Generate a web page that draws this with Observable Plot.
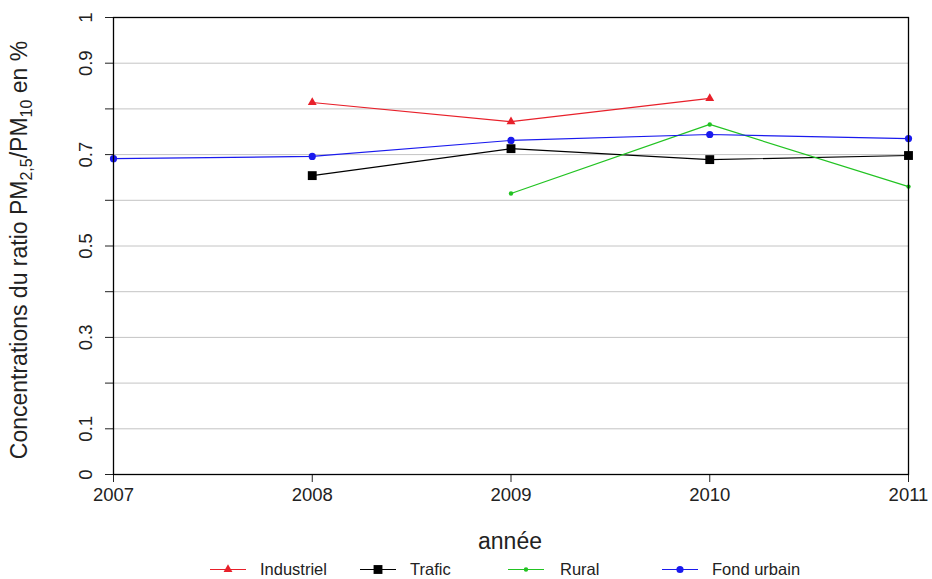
<!DOCTYPE html>
<html>
<head>
<meta charset="utf-8">
<script src="https://cdn.jsdelivr.net/npm/d3@7"></script>
<script src="https://cdn.jsdelivr.net/npm/@observablehq/plot@0.6"></script>
<style>
  body { margin: 0; background: #fff; font-family: "Liberation Sans", Arial, sans-serif; }
  #wrap { position: relative; width: 932px; height: 579px; }
  #legend { position: absolute; left: 0; top: 560px; width: 932px; height: 19px; font-size: 16.5px; color: #222; }
  .key { position: absolute; top: 0; }
  .name { position: absolute; top: 0; line-height: 19px; white-space: nowrap; }
</style>
</head>
<body>
<div id="wrap">
  <div id="chart"></div>
  <div id="legend"></div>
</div>
<script>
// Years on the horizontal axis
const years = [2007, 2008, 2009, 2010, 2011];

// PM2.5 / PM10 ratio by station type (null = no measurement)
const industriel = [null, 0.814, 0.772, 0.823, null];
const trafic     = [null, 0.654, 0.713, 0.689, 0.698];
const rural      = [null, null, 0.615, 0.766, 0.630];
const fondUrbain = [0.691, 0.696, 0.731, 0.744, 0.735];

// Vertical ticks every 0.1, labelled only on odd tenths and the ends
const yTicks = [0, 0.1, 0.2, 0.3, 0.4, 0.5, 0.6, 0.7, 0.8, 0.9, 1];
const yLabels = ["0", "0.1", "", "0.3", "", "0.5", "", "0.7", "", "0.9", "1"];

const seriesNames = ["Industriel", "Trafic", "Rural", "Fond urbain"];
const seriesColors = ["#e8202a", "#000000", "#22c322", "#1a1aee"];
const seriesSymbols = ["triangle", "square", "circle", "circle"];
const seriesSizes = [3.3, 5, 2.2, 3.6];
const seriesValues = [industriel, trafic, rural, fondUrbain];

const rows = seriesNames.flatMap((name, i) =>
  years.map((year, j) => ({ name, year, value: seriesValues[i][j] }))
       .filter(d => d.value != null)
);

const marks = [
  Plot.ruleY(yTicks.slice(1, -1), { stroke: "#c4c4c4", strokeWidth: 1 }),
  Plot.axisX({ ticks: years, tickFormat: d => String(d), tickSize: 8, tickPadding: 5,
               fontSize: 18.5, label: null, color: "#222" }),
  Plot.axisY({ ticks: yTicks, tickSize: 8, tickPadding: 14, tickRotate: -90,
               tickFormat: d => yLabels[yTicks.indexOf(d)],
               fontSize: 18.5, label: null, color: "#222" })
];

seriesNames.forEach((name, i) => {
  const data = rows.filter(d => d.name === name);
  marks.push(Plot.line(data, { x: "year", y: "value", stroke: seriesColors[i], strokeWidth: 1.2 }));
  marks.push(Plot.dot(data, { x: "year", y: "value", symbol: () => seriesSymbols[i],
    r: seriesSizes[i], fill: seriesColors[i], stroke: "none" }));
});
marks.push(Plot.frame({ stroke: "#000", strokeWidth: 1.3 }));

const chart = Plot.plot({
  width: 932,
  height: 560,
  marginTop: 17,
  marginRight: 24,
  marginBottom: 86,
  marginLeft: 113,
  style: { fontFamily: "'Liberation Sans', Arial, sans-serif", background: "#fff", color: "#222" },
  x: { domain: [2007, 2011] },
  y: { domain: [0, 1] },
  symbol: { type: "identity" },
  marks
});
document.getElementById("chart").appendChild(chart);

// Axis titles (the vertical one carries subscripts)
const svg = d3.select(chart);
svg.append("text")
  .attr("x", 510).attr("y", 549)
  .attr("text-anchor", "middle")
  .attr("font-size", 23).attr("fill", "#222")
  .text("année");

const yt = svg.append("text")
  .attr("transform", "translate(27,250) rotate(-90)")
  .attr("text-anchor", "middle")
  .attr("font-size", 23).attr("fill", "#222");
yt.append("tspan").text("Concentrations du ratio PM");
yt.append("tspan").attr("font-size", 16).attr("dy", 5).text("2,5");
yt.append("tspan").attr("dy", -5).text("/PM");
yt.append("tspan").attr("font-size", 16).attr("dy", 5).text("10");
yt.append("tspan").attr("dy", -5).text(" en %");

// Legend: line segment with marker, then the series name
const keyLeft = [210, 360, 508, 662];
const nameLeft = [260, 410, 560, 712];
const legend = d3.select("#legend");
seriesNames.forEach((name, i) => {
  const s = legend.append("svg").attr("class", "key")
    .style("left", keyLeft[i] + "px").attr("width", 36).attr("height", 19);
  s.append("line").attr("x1", 0).attr("x2", 36).attr("y1", 9.5).attr("y2", 9.5)
    .attr("stroke", seriesColors[i]).attr("stroke-width", 1.2);
  const sym = { triangle: d3.symbolTriangle, square: d3.symbolSquare, circle: d3.symbolCircle }[seriesSymbols[i]];
  s.append("path").attr("transform", "translate(18,9.5)")
    .attr("d", d3.symbol(sym, Math.PI * seriesSizes[i] * seriesSizes[i])())
    .attr("fill", seriesColors[i]);
  legend.append("div").attr("class", "name").style("left", nameLeft[i] + "px").text(name);
});
</script>
</body>
</html>
